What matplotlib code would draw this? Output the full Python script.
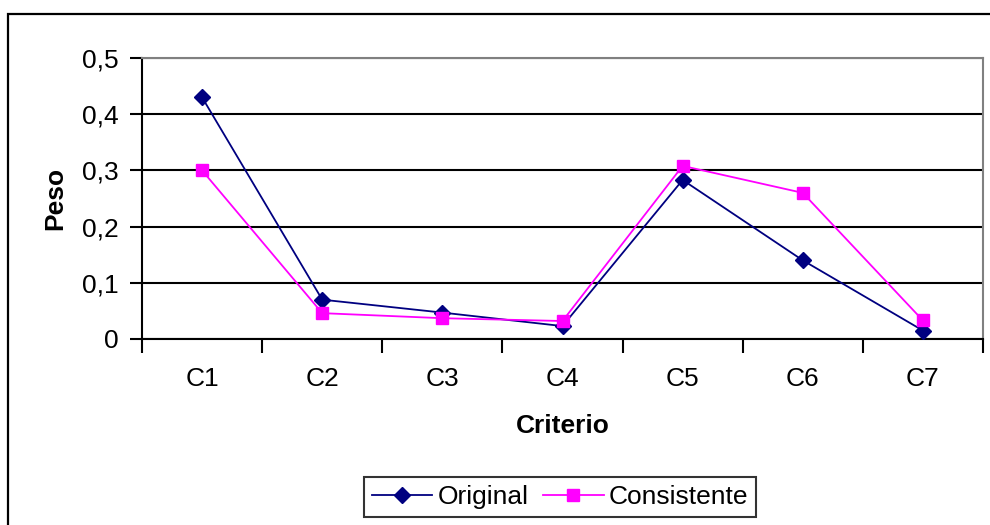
import matplotlib.pyplot as plt
from matplotlib.patches import Rectangle
from matplotlib.ticker import FixedLocator

plt.rcParams['font.family'] = ['Liberation Sans', 'DejaVu Sans']

criterios = ['C1', 'C2', 'C3', 'C4', 'C5', 'C6', 'C7']
original = [0.43, 0.07, 0.047, 0.023, 0.283, 0.14, 0.015]
consistente = [0.30, 0.046, 0.037, 0.032, 0.308, 0.26, 0.033]
y_ticks = [0, 0.1, 0.2, 0.3, 0.4, 0.5]
y_labels = ['0', '0,1', '0,2', '0,3', '0,4', '0,5']

W, H = 990, 525
fig = plt.figure(figsize=(W / 100, H / 100), dpi=100)
ax = fig.add_axes([142 / W, 1 - 339 / H, (983 - 142) / W, (339 - 58) / H])

# outer chart frame, cut off at right and bottom
fig.patches.append(Rectangle((8 / W, -0.1), 1.1, 1 - 13.5 / H + 0.1,
                             transform=fig.transFigure, fill=False,
                             edgecolor='black', linewidth=1.6, clip_on=False))

x = list(range(len(criterios)))
ax.plot(x, original, color='#000080', linewidth=1.3, marker='D',
        markersize=8, label='Original', zorder=3)
ax.plot(x, consistente, color='#FF00FF', linewidth=1.3, marker='s',
        markersize=8, label='Consistente', zorder=3)

ax.set_xlim(-0.5, len(criterios) - 0.5)
ax.set_ylim(0, 0.5)
ax.set_yticks(y_ticks)
ax.set_yticklabels(y_labels, fontsize=19)
ax.set_xticks(x)
ax.set_xticklabels(criterios, fontsize=19)
ax.xaxis.set_minor_locator(FixedLocator([i - 0.5 for i in range(len(criterios) + 1)]))
ax.tick_params(axis='x', which='major', length=0, pad=20)
ax.tick_params(axis='x', which='minor', length=10, width=1.5, direction='out')
ax.tick_params(axis='y', length=9, width=1.5, direction='out', pad=8)

ax.yaxis.grid(True, color='black', linewidth=1.5)
ax.set_axisbelow(True)
for s in ['left', 'bottom']:
    ax.spines[s].set_linewidth(1.5)
    ax.spines[s].set_color('black')
for s in ['top', 'right']:
    ax.spines[s].set_linewidth(1.5)
    ax.spines[s].set_color('#808080')

ax.set_ylabel('Peso', fontsize=19, fontweight='bold', va='center')
ax.yaxis.set_label_coords((55 - 142) / 841, 0.5)
ax.set_xlabel('Criterio', fontsize=19, fontweight='bold', va='center')
ax.xaxis.set_label_coords(0.5, (339 - 426) / 281)

leg = fig.legend(loc='center', bbox_to_anchor=(560 / W, 1 - 497 / H), ncol=2,
                 fontsize=19, frameon=True, fancybox=False, edgecolor='black',
                 handlelength=2.3, columnspacing=0.55, handletextpad=0.2,
                 borderpad=0.3)
leg.get_frame().set_linewidth(1.5)

fig.savefig('out.png', dpi=100)
